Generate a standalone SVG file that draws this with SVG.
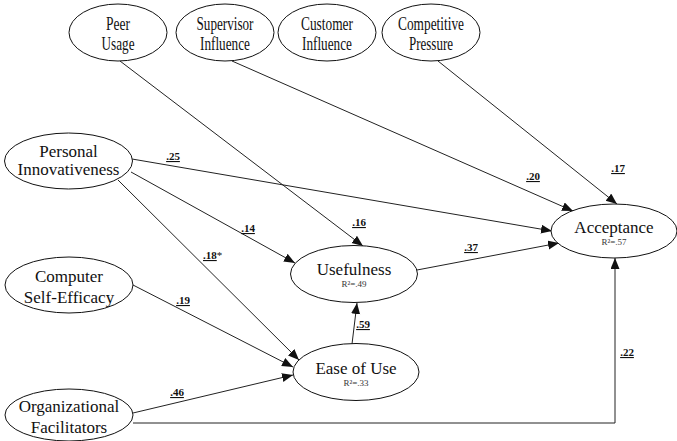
<svg xmlns="http://www.w3.org/2000/svg" width="677" height="441" viewBox="0 0 677 441">
<style>
.n ellipse{fill:#fff;stroke:#111;stroke-width:1}
.t{font-family:'Liberation Serif','Times New Roman','DejaVu Serif',serif;font-size:17px;fill:#111;text-anchor:middle}
.tt{font-family:'Liberation Serif','Times New Roman','DejaVu Serif',serif;font-size:18.5px;fill:#111;text-anchor:middle}
.r{font-family:'Liberation Serif','Times New Roman','DejaVu Serif',serif;font-size:9px;fill:#333;text-anchor:middle}
.l{font-family:'Liberation Serif','Times New Roman','DejaVu Serif',serif;font-size:11px;font-weight:bold;fill:#111;text-anchor:middle;text-decoration:underline}
.s{font-family:'Liberation Serif','Times New Roman','DejaVu Serif',serif;font-size:11px;fill:#111}
.c line,.c polyline{stroke:#222;stroke-width:1;fill:none;marker-end:url(#ah)}
</style>
<defs>
<marker id="ah" markerUnits="userSpaceOnUse" markerWidth="12" markerHeight="10" refX="11" refY="4.5" orient="auto">
<path d="M0,0 L11,4.5 L0,9 Z" fill="#111"/>
</marker>
</defs>
<rect width="677" height="441" fill="#fff"/>
<g id="connectors" class="c">
<line x1="120" y1="61" x2="363" y2="246"/>
<line x1="232" y1="61" x2="573" y2="211"/>
<line x1="438" y1="61" x2="617" y2="204"/>
<line x1="132" y1="159" x2="552" y2="231"/>
<line x1="131" y1="172" x2="295" y2="263"/>
<line x1="118" y1="180" x2="299" y2="360"/>
<line x1="133" y1="285" x2="293" y2="367"/>
<line x1="133" y1="413" x2="293" y2="375"/>
<polyline points="133,423 615,423 615,258"/>
<line x1="417" y1="270" x2="559" y2="243"/>
<line x1="352" y1="344" x2="357" y2="303"/>
</g>
<g id="labels">
<text class="l" x="173" y="160">.25</text>
<text class="l" x="248" y="232">.14</text>
<text class="s" x="203" y="259"><tspan font-weight="bold" text-decoration="underline">.18</tspan>*</text>
<text class="l" x="359" y="226">.16</text>
<text class="l" x="533" y="180">.20</text>
<text class="l" x="618" y="172">.17</text>
<text class="l" x="471" y="251">.37</text>
<text class="l" x="183" y="304">.19</text>
<text class="l" x="363" y="328">.59</text>
<text class="l" x="177" y="396">.46</text>
<text class="l" x="627" y="356">.22</text>
</g>
<g id="peer" class="n"><ellipse cx="118" cy="32.5" rx="49" ry="28.5"/><text class="tt" x="118" y="30" textLength="24" lengthAdjust="spacingAndGlyphs">Peer</text><text class="tt" x="118" y="50" textLength="33" lengthAdjust="spacingAndGlyphs">Usage</text></g>
<g id="supervisor" class="n"><ellipse cx="225" cy="32.5" rx="49" ry="28.5"/><text class="tt" x="225" y="30" textLength="57" lengthAdjust="spacingAndGlyphs">Supervisor</text><text class="tt" x="225" y="50" textLength="50" lengthAdjust="spacingAndGlyphs">Influence</text></g>
<g id="customer" class="n"><ellipse cx="327" cy="32.5" rx="49" ry="28.5"/><text class="tt" x="327" y="30" textLength="52" lengthAdjust="spacingAndGlyphs">Customer</text><text class="tt" x="327" y="50" textLength="50" lengthAdjust="spacingAndGlyphs">Influence</text></g>
<g id="competitive" class="n"><ellipse cx="431" cy="32.5" rx="49" ry="28.5"/><text class="tt" x="431" y="30" textLength="66" lengthAdjust="spacingAndGlyphs">Competitive</text><text class="tt" x="431" y="50" textLength="44" lengthAdjust="spacingAndGlyphs">Pressure</text></g>
<g id="personal" class="n"><ellipse cx="68.5" cy="161" rx="64" ry="28"/><text class="t" x="68.5" y="157">Personal</text><text class="t" x="68.5" y="175">Innovativeness</text></g>
<g id="computer" class="n"><ellipse cx="69" cy="285" rx="64" ry="28"/><text class="t" x="69" y="282">Computer</text><text class="t" x="69" y="303">Self-Efficacy</text></g>
<g id="organizational" class="n"><ellipse cx="69" cy="415" rx="64" ry="26"/><text class="t" x="69" y="412">Organizational</text><text class="t" x="69" y="433">Facilitators</text></g>
<g id="usefulness" class="n"><ellipse cx="354" cy="274" rx="63.5" ry="28.5"/><text class="t" x="354" y="275">Usefulness</text><text class="r" x="354" y="287">R²=.49</text></g>
<g id="easeofuse" class="n"><ellipse cx="356" cy="372" rx="63" ry="28.5"/><text class="t" x="356" y="374">Ease of Use</text><text class="r" x="356" y="386">R²=.33</text></g>
<g id="acceptance" class="n"><ellipse cx="614" cy="231" rx="63" ry="27"/><text class="t" x="614" y="233">Acceptance</text><text class="r" x="614" y="245">R²=.57</text></g>
</svg>
